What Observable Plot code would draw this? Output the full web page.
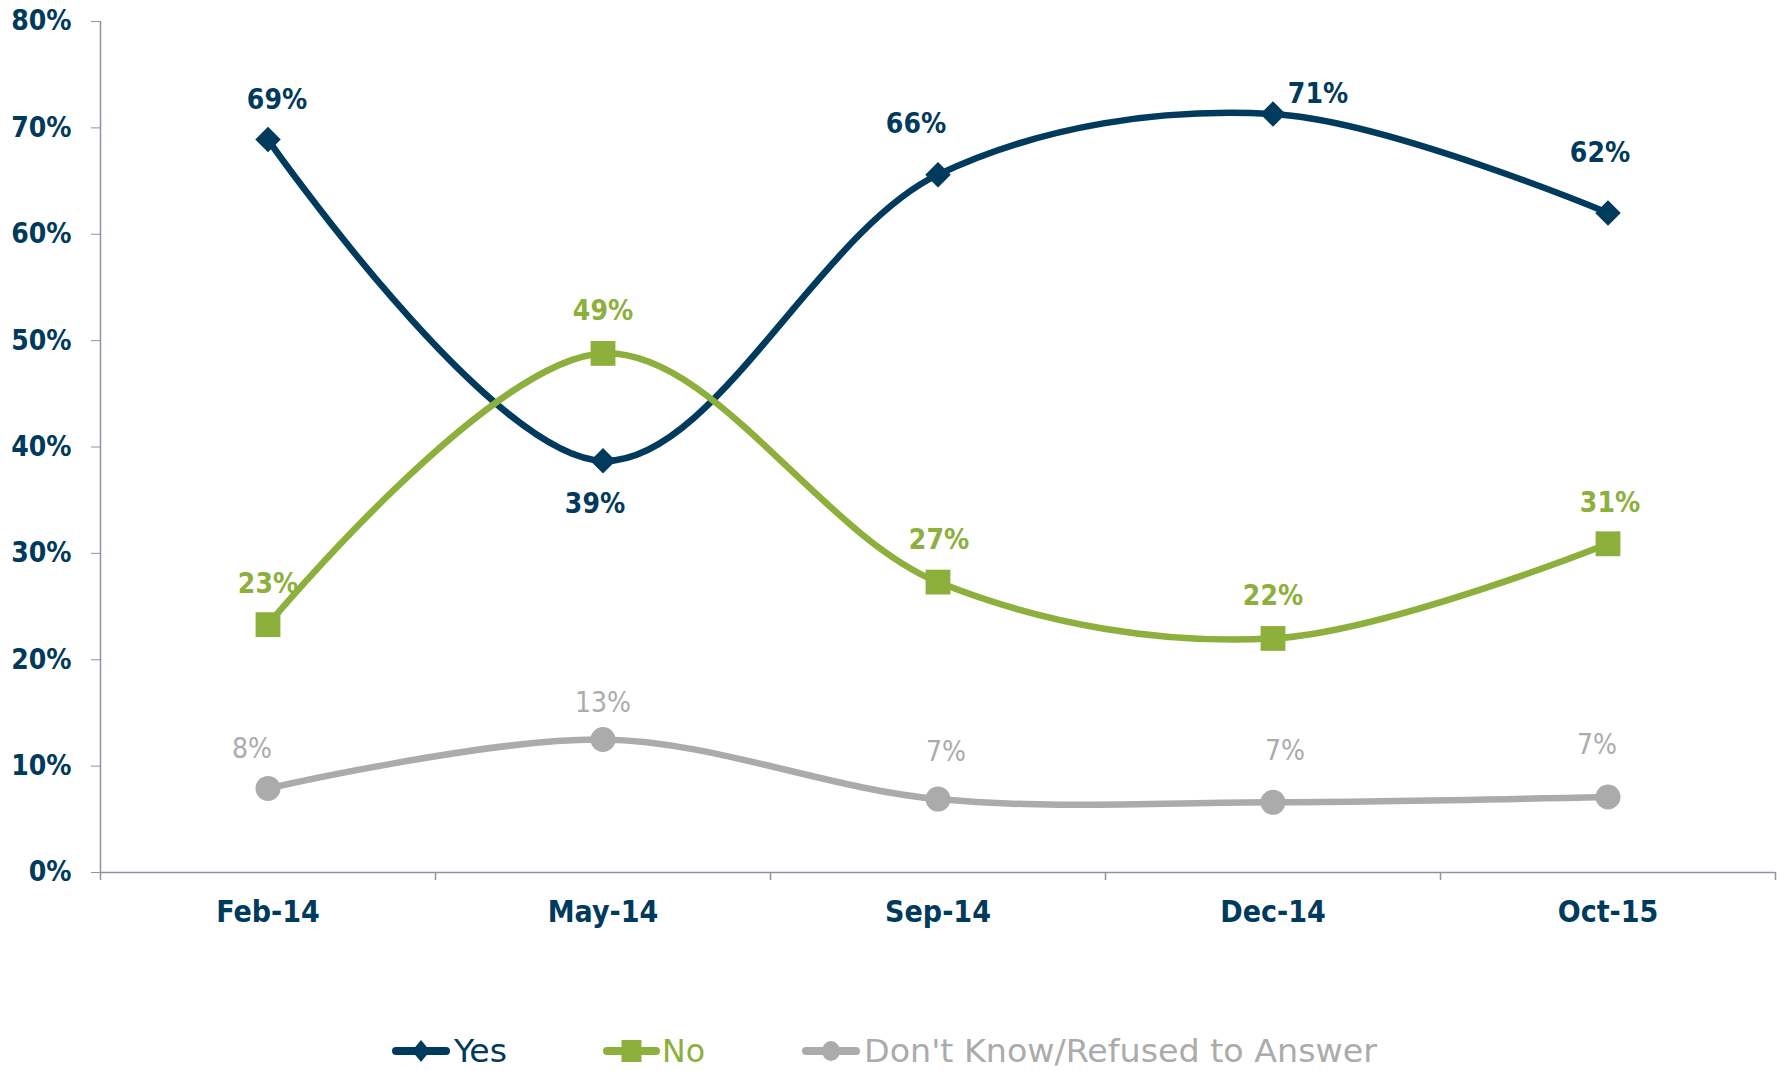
<!DOCTYPE html>
<html>
<head>
<meta charset="utf-8">
<script src="https://cdn.jsdelivr.net/npm/d3@7"></script>
<script src="https://cdn.jsdelivr.net/npm/@observablehq/plot@0.6"></script>
<style>
  html, body { margin: 0; padding: 0; background: #fff; }
  #chart svg { display: block; }
  #legend svg { display: block; }
</style>
</head>
<body>
<div id="chart"></div>
<div id="legend"></div>
<script>
// ---- Data ----
const categories = ["Feb-14", "May-14", "Sep-14", "Dec-14", "Oct-15"];
const seriesNames = ["Yes", "No", "Don't Know/Refused to Answer"];
const yesValues = [0.689, 0.387, 0.656, 0.713, 0.620];
const noValues  = [0.233, 0.488, 0.273, 0.220, 0.309];
const dkValues  = [0.079, 0.125, 0.069, 0.066, 0.071];
const yesLabels = ["69%", "39%", "66%", "71%", "62%"];
const noLabels  = ["23%", "49%", "27%", "22%", "31%"];
const dkLabels  = ["8%", "13%", "7%", "7%", "7%"];
const yTicks = [0, 0.1, 0.2, 0.3, 0.4, 0.5, 0.6, 0.7, 0.8];
const yTickLabels = ["0%", "10%", "20%", "30%", "40%", "50%", "60%", "70%", "80%"];

// ---- Styling ----
const NAVY = "#003A5C", GREEN = "#8DAF3C", GRAY = "#ABABAB", AXIS = "#8E93A4";
const FONT = "'DejaVu Sans Condensed', 'DejaVu Sans', sans-serif";
const W = 1781, H = 1000;
const mL = 100, mR = 6, mT = 21, mB = 128;
const bw = (W - mL - mR) / categories.length;

const series = [
  {name: seriesNames[0], values: yesValues, labels: yesLabels, color: NAVY, symbol: "diamond2", r: 11.5, weight: "bold",
   nudge: [[9, -40], [-8, 43], [-22, -51], [45, -20], [-8, -60]]},
  {name: seriesNames[1], values: noValues, labels: noLabels, color: GREEN, symbol: "square", r: 14, weight: "bold",
   nudge: [[0, -41], [0, -42], [1, -42], [0, -42], [2, -41]]},
  {name: seriesNames[2], values: dkValues, labels: dkLabels, color: GRAY, symbol: "circle", r: 12.5, weight: "normal",
   nudge: [[-16, -39], [0, -37], [8, -47], [12, -51], [-11, -52]]}
];

const rows = s => categories.map((c, i) => ({cat: c, v: s.values[i], label: s.labels[i], series: s.name}));

const marks = [];
// axis lines and boundary ticks
marks.push(Plot.ruleY([0], {stroke: AXIS, strokeWidth: 1.5}));
marks.push(Plot.ruleX([categories[0]], {x: d => d, dx: -bw / 2, stroke: AXIS, strokeWidth: 1.5, insetBottom: -8}));
marks.push(Plot.ruleX(categories.slice(1), {x: d => d, dx: -bw / 2, stroke: AXIS, strokeWidth: 1.5,
  insetTop: H - mT - mB, insetBottom: -8}));
marks.push(Plot.ruleX([categories[categories.length - 1]], {x: d => d, dx: bw / 2, stroke: AXIS, strokeWidth: 1.5,
  insetTop: H - mT - mB, insetBottom: -8}));
marks.push(Plot.axisY({ticks: yTicks, tickFormat: (d, i) => yTickLabels[yTicks.indexOf(d)], tickSize: 9, tickPadding: 20,
  stroke: AXIS, fill: NAVY, fontSize: 28, fontWeight: "bold", label: null}));
marks.push(Plot.axisX({tickSize: 0, tickPadding: 28, fill: NAVY, fontSize: 30, fontWeight: "bold", label: null}));

for (const s of series) {
  const data = rows(s);
  marks.push(Plot.line(data, {x: "cat", y: "v", stroke: s.color, strokeWidth: 6.5, curve: "catmull-rom"}));
  marks.push(Plot.dot(data, {x: "cat", y: "v", symbol: () => s.symbol, r: s.r, fill: s.color, stroke: "none"}));
  data.forEach((d, i) => {
    marks.push(Plot.text([d], {x: "cat", y: "v", text: "label", fill: s.color, fontSize: 28, fontWeight: s.weight,
      dx: s.nudge[i][0], dy: s.nudge[i][1]}));
  });
}

const chart = Plot.plot({
  width: W, height: H,
  marginLeft: mL, marginRight: mR, marginTop: mT, marginBottom: mB,
  style: {fontFamily: FONT, fontSize: "28px", background: "#fff", overflow: "visible"},
  x: {type: "band", domain: categories, padding: 0, axis: null},
  y: {domain: [0, 0.8], axis: null},
  symbol: {type: "identity"},
  marks
});
document.getElementById("chart").appendChild(chart);

// ---- Legend ----
const LH = 71, cy = 51;
const legend = d3.create("svg").attr("width", W).attr("height", LH)
  .style("font-family", FONT).style("font-size", "32px");
const items = [
  {name: seriesNames[0], color: NAVY, x0: 392, x1: 450, tx: 454, tw: 53, shape: "diamond"},
  {name: seriesNames[1], color: GREEN, x0: 603, x1: 660, tx: 662, tw: 43, shape: "square"},
  {name: seriesNames[2], color: GRAY, x0: 802, x1: 860, tx: 864, tw: 513, shape: "circle"}
];
for (const it of items) {
  const g = legend.append("g");
  g.append("line").attr("x1", it.x0 + 4).attr("x2", it.x1 - 4).attr("y1", cy).attr("y2", cy)
    .attr("stroke", it.color).attr("stroke-width", 8).attr("stroke-linecap", "round");
  const mx = (it.x0 + it.x1) / 2;
  if (it.shape === "diamond") {
    g.append("path").attr("d", `M${mx},${cy - 11}L${mx + 9},${cy}L${mx},${cy + 11}L${mx - 9},${cy}Z`).attr("fill", it.color);
  } else if (it.shape === "square") {
    g.append("rect").attr("x", mx - 10).attr("y", cy - 11).attr("width", 20).attr("height", 22).attr("fill", it.color);
  } else {
    g.append("ellipse").attr("cx", mx).attr("cy", cy).attr("rx", 9).attr("ry", 10).attr("fill", it.color);
  }
  g.append("text").attr("x", it.tx).attr("y", cy + 11).attr("fill", it.color)
    .attr("textLength", it.tw).attr("lengthAdjust", "spacingAndGlyphs").text(it.name);
}
document.getElementById("legend").appendChild(legend.node());
</script>
</body>
</html>
